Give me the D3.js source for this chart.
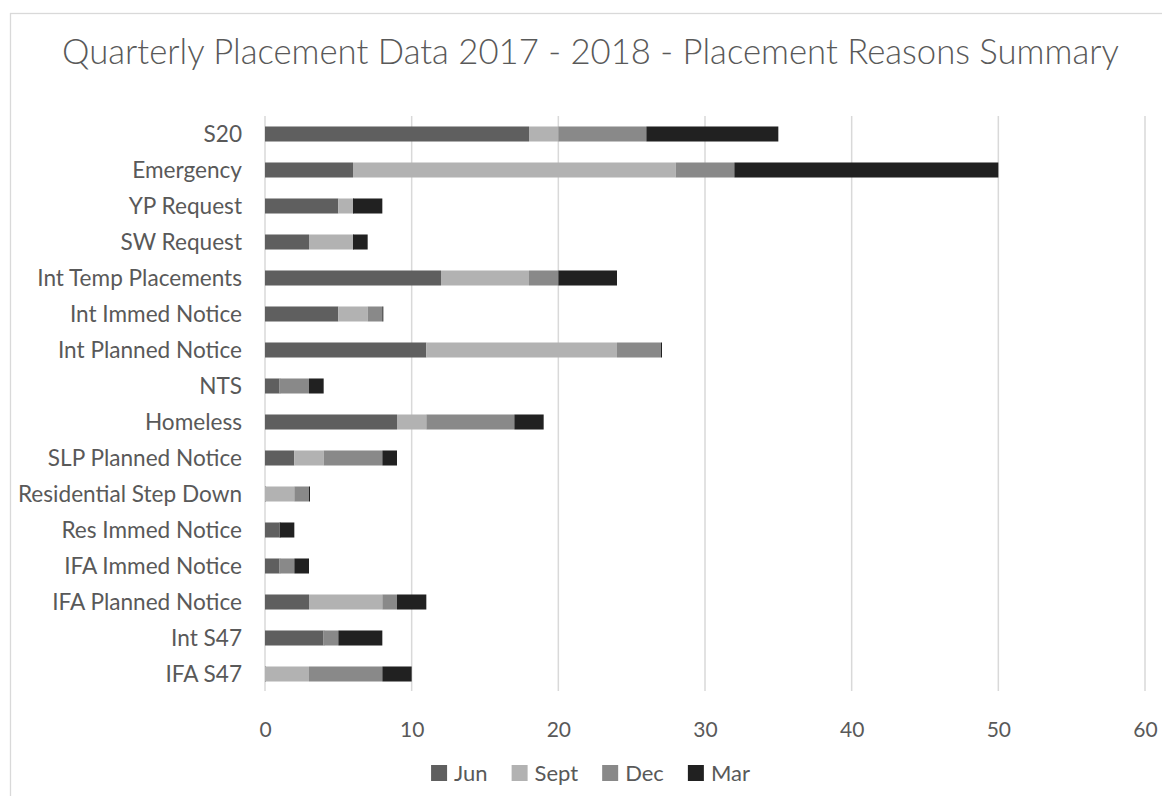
<!DOCTYPE html>
<html>
<head>
<meta charset="utf-8">
<script src="https://cdn.jsdelivr.net/npm/d3@7"></script>
<style>
  html, body { margin: 0; padding: 0; background: #fff; }
  svg { display: block; }
  text { font-family: Lato, "Open Sans", sans-serif; fill: #595959; }
</style>
</head>
<body>
<svg id="chart" width="1162" height="796"></svg>
<script>
// Placement reasons, top to bottom
const categories = [
  "S20", "Emergency", "YP Request", "SW Request", "Int Temp Placements",
  "Int Immed Notice", "Int Planned Notice", "NTS", "Homeless",
  "SLP Planned Notice", "Residential Step Down", "Res Immed Notice",
  "IFA Immed Notice", "IFA Planned Notice", "Int S47", "IFA S47"
];

// Placements per quarter
const jun  = [18,  6, 5, 3, 12, 5, 11, 1, 9, 2, 0, 1, 1, 3, 4, 0];
const sept = [ 2, 22, 1, 3,  6, 2, 13, 0, 2, 2, 2, 0, 0, 5, 0, 3];
const dec  = [ 6,  4, 0, 0,  2, 1,  3, 2, 6, 4, 1, 0, 1, 1, 1, 5];
const mar  = [ 9, 18, 2, 1,  4, 0,  0, 1, 2, 1, 0, 1, 1, 2, 3, 2];

const seriesNames = ["Jun", "Sept", "Dec", "Mar"];
const seriesColors = ["#5f5f5f", "#b2b2b2", "#898989", "#212121"];
const xTicks = [0, 10, 20, 30, 40, 50, 60];

const title = "Quarterly Placement Data 2017 - 2018 - Placement Reasons Summary";

const rows = categories.map((c, i) => ({
  category: c, Jun: jun[i], Sept: sept[i], Dec: dec[i], Mar: mar[i]
}));

const svg = d3.select("#chart");

// chart frame
svg.append("rect")
  .attr("x", 10.5).attr("y", 13.5)
  .attr("width", 1160).attr("height", 800)
  .attr("fill", "#fff").attr("stroke", "#d9d9d9").attr("stroke-width", 1.3);

const plot = { left: 265, right: 1145, top: 116, bottom: 692 };

const x = d3.scaleLinear().domain([0, 60]).range([plot.left, plot.right]);
const y = d3.scaleBand().domain(categories).range([plot.top, plot.bottom])
  .paddingInner(0.583).paddingOuter(0.2915);

// title
svg.append("text")
  .attr("x", 590.5).attr("y", 64)
  .attr("text-anchor", "middle")
  .style("font-size", "34.7px").style("font-weight", 300)
  .text(title);

// vertical gridlines
svg.append("g")
  .selectAll("line")
  .data(xTicks)
  .join("line")
  .attr("x1", d => x(d)).attr("x2", d => x(d))
  .attr("y1", plot.top).attr("y2", plot.bottom - 1)
  .attr("stroke", "#d9d9d9").attr("stroke-width", 1.5);

// x axis tick labels
const xAxis = d3.axisBottom(x).tickValues(xTicks).tickSize(0).tickPadding(0);
const gx = svg.append("g")
  .attr("transform", `translate(0, ${plot.bottom})`)
  .call(xAxis);
gx.select(".domain").remove();
gx.selectAll("text")
  .attr("y", 45).attr("dy", null)
  .style("font-size", "21px").style("font-family", "Lato, 'Open Sans', sans-serif")
  .attr("fill", "#595959");

// y axis category labels
const yAxis = d3.axisLeft(y).tickSize(0).tickPadding(0);
const gy = svg.append("g")
  .attr("transform", `translate(242, 0)`)
  .call(yAxis);
gy.select(".domain").remove();
gy.selectAll("text")
  .attr("dy", "0.36em")
  .style("font-size", "22.6px").style("font-family", "Lato, 'Open Sans', sans-serif")
  .attr("fill", "#595959");

// stacked bars
const stack = d3.stack().keys(seriesNames);
const layers = stack(rows);

svg.append("g")
  .selectAll("g")
  .data(layers)
  .join("g")
  .attr("fill", (d, i) => seriesColors[i])
  .selectAll("rect")
  .data(d => d)
  .join("rect")
  .attr("x", d => x(d[0]))
  .attr("y", d => y(d.data.category))
  .attr("height", y.bandwidth())
  .attr("width", d => Math.max(1, x(d[1]) - x(d[0])));

// legend
const legend = svg.append("g");
const items = legend.selectAll("g")
  .data(seriesNames)
  .join("g");
items.append("rect")
  .attr("width", 16).attr("height", 16)
  .attr("y", 765)
  .attr("fill", (d, i) => seriesColors[i]);
items.append("text")
  .attr("x", 23).attr("y", 781)
  .style("font-size", "22px")
  .text(d => d);

let offset = 0;
const widths = [];
items.each(function () {
  const w = 23 + d3.select(this).select("text").node().getComputedTextLength();
  widths.push(w);
});
const total = d3.sum(widths) + 24 * (widths.length - 1);
offset = 590.5 - total / 2;
items.attr("transform", (d, i) => {
  const t = `translate(${offset}, 0)`;
  offset += widths[i] + 24;
  return t;
});
</script>
</body>
</html>
